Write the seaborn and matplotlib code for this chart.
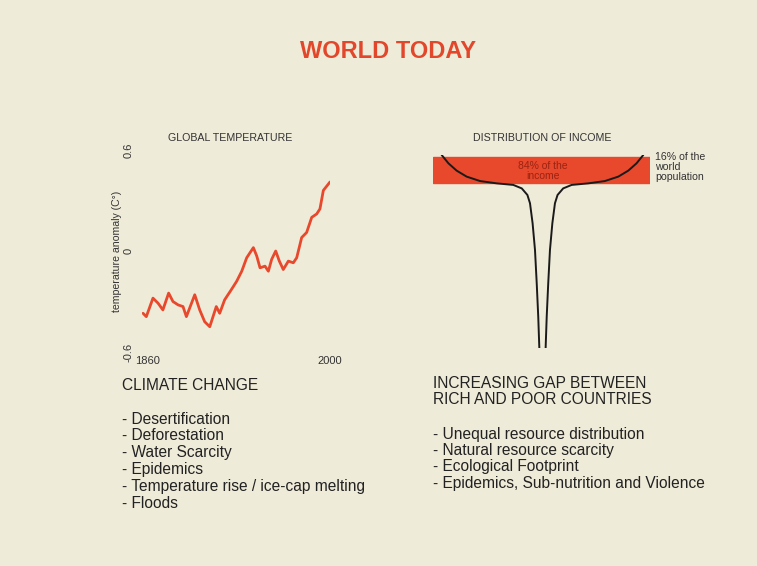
import matplotlib
matplotlib.use("Agg")
import matplotlib.pyplot as plt
import seaborn as sns
import pandas as pd

# global temperature anomaly
years = [1856.8, 1859.3, 1864.4, 1868.3, 1872, 1876.4, 1879.7, 1883.6, 1887.4, 1890,
         1896.4, 1900.2, 1904, 1907.9, 1912.9, 1915.5, 1919.3, 1924.4, 1928.5,
         1932.4, 1936.2, 1941.3, 1943.9, 1946.4, 1950.2, 1952.8, 1955.3, 1958.4,
         1961.2, 1964.2, 1968.1, 1971.9, 1974.5, 1978.3, 1982.1, 1986, 1989.8,
         1992.3, 1994.9, 2000]
anomaly = [-0.37, -0.39, -0.28, -0.31, -0.35, -0.25, -0.30, -0.32, -0.33, -0.39,
           -0.26, -0.35, -0.42, -0.45, -0.33, -0.37, -0.29, -0.23, -0.18,
           -0.12, -0.04, 0.02, -0.03, -0.10, -0.09, -0.12, -0.05, 0.0,
           -0.06, -0.11, -0.06, -0.07, -0.04, 0.08, 0.11, 0.20, 0.22,
           0.25, 0.36, 0.41]
temp_ticks = [-0.6, 0, 0.6]
temp_ticklabels = ["-0.6", "0", "0.6"]
year_ticks = [1860, 2000]

# champagne glass: left half of the curve (x = population share, y = height)
glass_x = [4.0, 7.1, 10.9, 15.5, 21.7, 29.4, 37.0, 40.9, 43.5, 44.7, 45.9, 47.0,
           47.8, 48.5, 49.0]
glass_y = [100, 95.7, 91.9, 88.8, 86.5, 85.3, 84.5, 82.7, 79.3, 75.0, 64.6, 50.8,
           33.5, 16.2, 0]
glass_mirror = 100.9   # right half = mirror image of the left half
band_bottom, band_top = 85.3, 98.8

climate_items = ["Desertification", "Deforestation", "Water Scarcity", "Epidemics",
                 "Temperature rise / ice-cap melting", "Floods"]
gap_items = ["Unequal resource distribution", "Natural resource scarcity",
             "Ecological Footprint", "Epidemics, Sub-nutrition and Violence"]

bg = "#efebd9"
red = "#e8482b"
grey = "#333333"

sns.set_theme(style="white")
plt.rcParams["font.family"] = ["Liberation Sans", "DejaVu Sans"]

fig = plt.figure(figsize=(7.57, 5.66), dpi=100, facecolor=bg)

W, H = 757, 566


def px(x0, y0, x1, y1):
    return [x0 / W, 1 - y1 / H, (x1 - x0) / W, (y1 - y0) / H]


# title
fig.text(388 / W, 1 - 52 / H, "WORLD TODAY", ha="center", va="center",
         fontsize=17, fontweight="heavy", color="#e2472b")

# ---- temperature panel
ax1 = fig.add_axes(px(142, 150, 330, 352))
ax1.set_facecolor("none")
df_t = pd.DataFrame({"year": years, "anomaly": anomaly})
sns.lineplot(data=df_t, x="year", y="anomaly", ax=ax1, color=red, linewidth=2.0,
             solid_joinstyle="round", solid_capstyle="round")
ax1.set_xlim(1856, 2000)
ax1.set_ylim(-0.6, 0.6)
ax1.set_xticks(year_ticks)
ax1.set_xticklabels([str(y) for y in year_ticks], fontsize=8, color=grey)
ax1.set_yticks(temp_ticks)
ax1.set_yticklabels(temp_ticklabels, fontsize=8, color=grey, rotation=90, va="center")
ax1.tick_params(length=0, axis="y", pad=6)
ax1.tick_params(length=0, axis="x", pad=3)
ax1.set_xlabel("")
ax1.set_ylabel("temperature anomaly (C°)", fontsize=7.6, color=grey, labelpad=1)
sns.despine(ax=ax1, left=True, bottom=True)
fig.text(230 / W, 1 - 138 / H, "GLOBAL TEMPERATURE", ha="center", va="center",
         fontsize=7.7, color=grey)

# ---- income panel
ax2 = fig.add_axes(px(433, 155, 650, 348))
ax2.set_facecolor("none")
ax2.axhspan(band_bottom, band_top, xmin=0, xmax=1, color=red, zorder=1)
left = pd.DataFrame({"x": glass_x, "y": glass_y})
right = pd.DataFrame({"x": [glass_mirror - v for v in glass_x], "y": glass_y})
for half in (left, right):
    sns.lineplot(data=half, x="x", y="y", ax=ax2, sort=False, color="#1a1a1a",
                 linewidth=1.4, zorder=3, solid_joinstyle="round")
ax2.set_xlim(0, 100)
ax2.set_ylim(0, 100)
ax2.set_xticks([])
ax2.set_yticks([])
ax2.set_xlabel("")
ax2.set_ylabel("")
sns.despine(ax=ax2, left=True, bottom=True)
ax2.text(50.7, 91.8, "84% of the\nincome", ha="center", va="center", fontsize=7.5,
         color="#9a2412", linespacing=1.0, zorder=2)
ax2.text(102.5, 101.5, "16% of the\nworld\npopulation", ha="left", va="top",
         fontsize=7.6, color=grey, linespacing=1.0, clip_on=False)
fig.text(542 / W, 1 - 138 / H, "DISTRIBUTION OF INCOME", ha="center", va="center",
         fontsize=7.7, color=grey)

# ---- text blocks
txt = dict(fontsize=11.2, color="#222222", va="center", ha="left")
fig.text(122 / W, 1 - 385 / H, "CLIMATE CHANGE", **txt)
for i, item in enumerate(climate_items):
    fig.text(122 / W, 1 - (419 + i * 16.8) / H, "- " + item, **txt)

fig.text(433 / W, 1 - 383 / H, "INCREASING GAP BETWEEN", **txt)
fig.text(433 / W, 1 - 399 / H, "RICH AND POOR COUNTRIES", **txt)
for i, item in enumerate(gap_items):
    fig.text(433 / W, 1 - (434 + i * 16.5) / H, "- " + item, **txt)

fig.savefig("out.png", dpi=100, facecolor=bg)
